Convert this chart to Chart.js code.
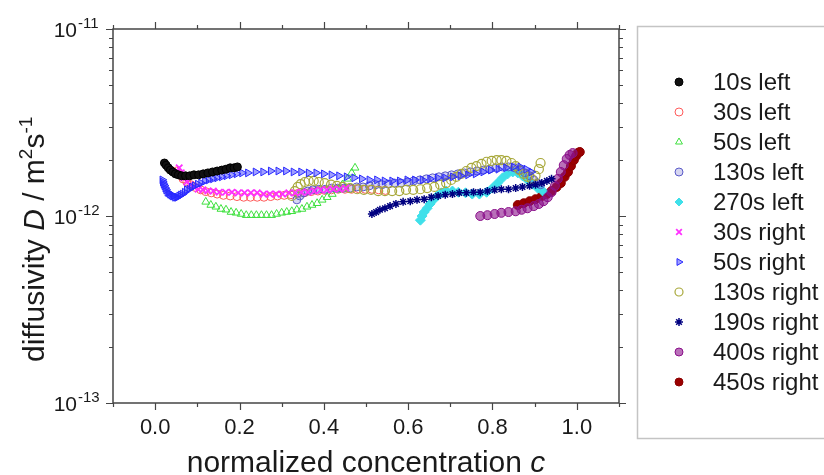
<!DOCTYPE html>
<html>
<head>
<meta charset="utf-8">
<script src="https://cdn.jsdelivr.net/npm/chart.js@4.4.1/dist/chart.umd.min.js"></script>
<style>
    html, body { margin: 0; padding: 0; background: #fff; }
    #wrap { width: 824px; height: 475px; }
</style>
</head>
<body>
<div id="wrap"><canvas id="chart" width="824" height="475"></canvas></div>
<script>
// 坐标轴范围与刻度
const xRange = [-0.1, 1.1];
const yRange = [1e-13, 1e-11];
const xTicks = [0, 0.2, 0.4, 0.6, 0.8, 1.0];
const xTickLabels = ['0.0', '0.2', '0.4', '0.6', '0.8', '1.0'];
const xMinorTicks = [-0.1, 0.1, 0.3, 0.5, 0.7, 0.9, 1.1];
const yTicks = [1e-13, 1e-12, 1e-11];
const yTickExponents = ['-13', '-12', '-11'];
const yMinorTicks = [2e-13, 3e-13, 4e-13, 5e-13, 6e-13, 7e-13, 8e-13, 9e-13,
                     2e-12, 3e-12, 4e-12, 5e-12, 6e-12, 7e-12, 8e-12, 9e-12];

const seriesNames = ['10s left', '30s left', '50s left', '130s left', '270s left',
                     '30s right', '50s right', '130s right', '190s right', '400s right', '450s right'];

// 数据: c = 归一化浓度, d = 扩散系数 (单位 1e-12 m²/s)
const c10sLeft = [0.022, 0.026, 0.031, 0.036, 0.042, 0.048, 0.055, 0.063, 0.072, 0.082, 0.092, 0.103, 0.114, 0.125, 0.136, 0.147, 0.158, 0.168, 0.178, 0.187, 0.195];
const d10sLeft = [1.92, 1.87, 1.81, 1.76, 1.72, 1.68, 1.66, 1.64, 1.64, 1.64, 1.66, 1.66, 1.68, 1.70, 1.72, 1.74, 1.76, 1.78, 1.81, 1.81, 1.83];

const c30sLeft = [0.050, 0.058, 0.066, 0.075, 0.085, 0.096, 0.108, 0.120, 0.133, 0.147, 0.162, 0.178, 0.194, 0.210, 0.226, 0.242, 0.258, 0.274, 0.290, 0.306, 0.322, 0.338, 0.354, 0.370, 0.386, 0.402, 0.418, 0.434, 0.450, 0.466, 0.482, 0.498, 0.514, 0.530, 0.546];
const d30sLeft = [1.74, 1.66, 1.58, 1.52, 1.47, 1.42, 1.38, 1.35, 1.33, 1.31, 1.29, 1.28, 1.27, 1.26, 1.26, 1.26, 1.26, 1.27, 1.28, 1.29, 1.30, 1.32, 1.33, 1.35, 1.36, 1.37, 1.38, 1.39, 1.39, 1.39, 1.40, 1.39, 1.39, 1.38, 1.37];

const c50sLeft = [0.120, 0.132, 0.144, 0.156, 0.168, 0.180, 0.192, 0.204, 0.216, 0.228, 0.240, 0.252, 0.264, 0.276, 0.288, 0.300, 0.312, 0.324, 0.336, 0.348, 0.360, 0.372, 0.384, 0.396, 0.408, 0.420, 0.432, 0.444, 0.456, 0.466, 0.474];
const d50sLeft = [1.19, 1.145, 1.12, 1.09, 1.08, 1.05, 1.04, 1.025, 1.01, 1.01, 1.01, 1.01, 1.01, 1.01, 1.025, 1.04, 1.05, 1.06, 1.08, 1.09, 1.12, 1.145, 1.17, 1.22, 1.26, 1.31, 1.38, 1.47, 1.58, 1.70, 1.81];

const c130sLeft = [0.336, 0.343, 0.352, 0.362, 0.374, 0.388, 0.403, 0.418, 0.433, 0.448, 0.463, 0.478, 0.493, 0.508, 0.523, 0.538, 0.553, 0.568, 0.583, 0.598, 0.613, 0.628, 0.643, 0.658, 0.673, 0.688, 0.703, 0.718, 0.733, 0.748, 0.763, 0.778, 0.793, 0.808, 0.823, 0.838, 0.852, 0.865, 0.877, 0.888, 0.898, 0.907, 0.914];
const d130sLeft = [1.22, 1.28, 1.33, 1.36, 1.38, 1.39, 1.39, 1.41, 1.41, 1.41, 1.41, 1.43, 1.43, 1.45, 1.47, 1.47, 1.48, 1.50, 1.50, 1.52, 1.54, 1.56, 1.58, 1.60, 1.62, 1.64, 1.66, 1.68, 1.70, 1.72, 1.74, 1.76, 1.78, 1.81, 1.83, 1.83, 1.81, 1.76, 1.70, 1.64, 1.56, 1.50, 1.47];

const c270sLeft = [0.629, 0.633, 0.638, 0.645, 0.652, 0.660, 0.669, 0.679, 0.690, 0.705, 0.719, 0.736, 0.752, 0.769, 0.786, 0.800, 0.812, 0.824, 0.836, 0.848, 0.860, 0.871, 0.883, 0.895, 0.907, 0.919];
const d270sLeft = [0.95, 1.00, 1.05, 1.10, 1.16, 1.22, 1.28, 1.33, 1.36, 1.36, 1.34, 1.33, 1.31, 1.31, 1.34, 1.41, 1.50, 1.60, 1.68, 1.72, 1.70, 1.64, 1.56, 1.48, 1.41, 1.36];

const c30sRight = [0.057, 0.062, 0.068, 0.075, 0.083, 0.092, 0.102, 0.113, 0.125, 0.138, 0.152, 0.167, 0.182, 0.197, 0.212, 0.227, 0.242, 0.257, 0.272, 0.287, 0.302, 0.317, 0.332, 0.347, 0.362, 0.377, 0.392, 0.407, 0.422, 0.437, 0.452];
const d30sRight = [1.81, 1.70, 1.60, 1.52, 1.47, 1.43, 1.39, 1.38, 1.36, 1.36, 1.34, 1.34, 1.34, 1.33, 1.33, 1.33, 1.33, 1.31, 1.31, 1.31, 1.31, 1.33, 1.33, 1.34, 1.34, 1.36, 1.38, 1.38, 1.39, 1.39, 1.41];

const c50sRight = [0.017, 0.018, 0.020, 0.022, 0.024, 0.026, 0.029, 0.032, 0.035, 0.038, 0.041, 0.044, 0.047, 0.050, 0.053, 0.057, 0.061, 0.065, 0.070, 0.075,
                   0.081, 0.087, 0.094, 0.101, 0.109, 0.118, 0.127, 0.137, 0.147, 0.158, 0.169, 0.181, 0.193, 0.206, 0.220,
                   0.238, 0.256, 0.274, 0.292, 0.310, 0.328, 0.346, 0.364, 0.382, 0.400, 0.418, 0.436, 0.454, 0.472, 0.490, 0.508, 0.526, 0.544, 0.562,
                   0.580, 0.598, 0.616, 0.634, 0.652, 0.670, 0.688, 0.706, 0.724, 0.742, 0.760, 0.778, 0.796, 0.814, 0.832, 0.850, 0.866, 0.880, 0.892];
const d50sRight = [1.56, 1.52, 1.48, 1.45, 1.41, 1.38, 1.34, 1.33, 1.31, 1.295, 1.28, 1.28, 1.26, 1.26, 1.26, 1.28, 1.295, 1.31, 1.34, 1.38,
                   1.39, 1.43, 1.45, 1.48, 1.50, 1.54, 1.56, 1.58, 1.60, 1.62, 1.64, 1.66, 1.68, 1.70, 1.70,
                   1.72, 1.72, 1.74, 1.74, 1.74, 1.72, 1.72, 1.70, 1.70, 1.68, 1.66, 1.64, 1.62, 1.60, 1.58, 1.56, 1.56, 1.54, 1.54,
                   1.54, 1.56, 1.56, 1.56, 1.58, 1.60, 1.60, 1.62, 1.64, 1.66, 1.68, 1.72, 1.76, 1.78, 1.81, 1.83, 1.83, 1.78, 1.72];

const c130sRight = [0.324, 0.331, 0.338, 0.345, 0.355, 0.364, 0.376, 0.388, 0.402, 0.417, 0.431, 0.445, 0.462, 0.479, 0.495, 0.512, 0.529, 0.545, 0.562, 0.579, 0.595, 0.612, 0.629, 0.645, 0.662, 0.676, 0.690, 0.702, 0.714, 0.726, 0.738, 0.750, 0.762, 0.774, 0.786, 0.798, 0.810, 0.821, 0.833, 0.845, 0.855, 0.864, 0.874, 0.883, 0.893, 0.902, 0.910, 0.914];
const d130sRight = [1.28, 1.36, 1.43, 1.48, 1.52, 1.54, 1.54, 1.52, 1.50, 1.47, 1.45, 1.43, 1.41, 1.39, 1.38, 1.38, 1.36, 1.36, 1.36, 1.36, 1.38, 1.38, 1.39, 1.41, 1.43, 1.47, 1.50, 1.56, 1.62, 1.68, 1.74, 1.81, 1.85, 1.90, 1.95, 1.97, 1.99, 1.99, 1.97, 1.92, 1.85, 1.76, 1.68, 1.62, 1.58, 1.64, 1.78, 1.92];

const c190sRight = [0.514, 0.524, 0.533, 0.545, 0.557, 0.571, 0.588, 0.605, 0.621, 0.638, 0.655, 0.671, 0.688, 0.705, 0.721, 0.738, 0.755, 0.771, 0.788, 0.805, 0.821, 0.838, 0.855, 0.871, 0.888, 0.902, 0.917, 0.929, 0.940];
const d190sRight = [1.025, 1.05, 1.08, 1.10, 1.13, 1.16, 1.19, 1.20, 1.22, 1.23, 1.26, 1.28, 1.30, 1.31, 1.33, 1.33, 1.34, 1.34, 1.36, 1.38, 1.39, 1.39, 1.41, 1.43, 1.45, 1.47, 1.50, 1.54, 1.58];

const c400sRight = [0.771, 0.788, 0.805, 0.821, 0.838, 0.855, 0.869, 0.883, 0.898, 0.910, 0.921, 0.931, 0.940, 0.948, 0.955, 0.962, 0.969, 0.976, 0.983, 0.990];
const d400sRight = [1.00, 1.01, 1.025, 1.04, 1.05, 1.06, 1.08, 1.10, 1.13, 1.16, 1.20, 1.26, 1.34, 1.45, 1.58, 1.72, 1.87, 2.02, 2.12, 2.17];

const c450sRight = [0.860, 0.874, 0.888, 0.902, 0.917, 0.929, 0.940, 0.952, 0.962, 0.971, 0.979, 0.986, 0.993, 0.998, 1.002, 1.007];
const d450sRight = [1.145, 1.17, 1.20, 1.23, 1.28, 1.31, 1.36, 1.43, 1.50, 1.62, 1.72, 1.85, 1.99, 2.09, 2.17, 2.20];

// 把两组数组合成散点
function toPoints(c, d) {
    return c.map((cc, i) => ({ x: cc, y: d[i] * 1e-12 }));
}

const seriesData = [
    toPoints(c10sLeft, d10sLeft),
    toPoints(c30sLeft, d30sLeft),
    toPoints(c50sLeft, d50sLeft),
    toPoints(c130sLeft, d130sLeft),
    toPoints(c270sLeft, d270sLeft),
    toPoints(c30sRight, d30sRight),
    toPoints(c50sRight, d50sRight),
    toPoints(c130sRight, d130sRight),
    toPoints(c190sRight, d190sRight),
    toPoints(c400sRight, d400sRight),
    toPoints(c450sRight, d450sRight)
];

// 各系列的标记样式 (order 越小越靠上)
const markerStyles = [
    { pointStyle: 'circle',   borderColor: '#000000', backgroundColor: '#111111', borderWidth: 1, order: 0 },
    { pointStyle: 'circle',   borderColor: '#ff5a5a', backgroundColor: 'rgba(255,255,255,0)', borderWidth: 1, order: 5 },
    { pointStyle: 'triangle', borderColor: '#3ee03e', backgroundColor: 'rgba(255,255,255,0)', borderWidth: 1, radius: 4.5, order: 4 },
    { pointStyle: 'circle',   borderColor: '#5a5ac8', backgroundColor: 'rgba(90,90,200,0.25)', borderWidth: 1, order: 3 },
    { pointStyle: 'rectRot',  borderColor: '#3fe0ea', backgroundColor: '#3fe0ea', borderWidth: 1, radius: 5, order: 3 },
    { pointStyle: 'crossRot', borderColor: '#ff30ff', backgroundColor: '#ff30ff', borderWidth: 1.8, radius: 4.5, order: 2 },
    { pointStyle: 'triangle', borderColor: '#2a2aff', backgroundColor: 'rgba(42,42,255,0.45)', borderWidth: 1, rotation: 90, radius: 4.5, order: 1 },
    { pointStyle: 'circle',   borderColor: '#a8a83a', backgroundColor: 'rgba(255,255,255,0)', borderWidth: 1.2, radius: 4.5, order: 2 },
    { pointStyle: 'star',     borderColor: '#000080', backgroundColor: '#000080', borderWidth: 1.5, order: 1 },
    { pointStyle: 'circle',   borderColor: '#8a108a', backgroundColor: 'rgba(138,16,138,0.6)', borderWidth: 1, radius: 4.5, order: 1 },
    { pointStyle: 'circle',   borderColor: '#8c0000', backgroundColor: '#9a0000', borderWidth: 1, radius: 4.5, order: 3 }
];

const FONT = '"Liberation Sans", Arial, sans-serif';
const TEXT_COLOR = '#1a1a1a';
const AXIS_COLOR = '#454545';

// 依次绘制带上标/斜体的文字片段
function drawParts(ctx, parts, x, y) {
    let cx = x;
    parts.forEach(p => {
        ctx.font = p.font;
        ctx.fillText(p.text, cx, y - (p.rise || 0));
        cx += ctx.measureText(p.text).width;
    });
}

// 坐标框、刻度、标签、图例
const framePlugin = {
    id: 'frame',
    afterDraw(chart) {
        const { ctx, chartArea: a, scales } = chart;
        const xs = scales.x, ys = scales.y;
        ctx.save();

        // 边框
        ctx.strokeStyle = AXIS_COLOR;
        ctx.lineWidth = 1.5;
        ctx.strokeRect(a.left, a.top, a.right - a.left, a.bottom - a.top);

        // 刻度线 (朝外, 四边)
        ctx.lineWidth = 1.2;
        ctx.beginPath();
        const tickX = (v, len) => {
            const px = Math.round(xs.getPixelForValue(v)) + 0.5;
            ctx.moveTo(px, a.bottom); ctx.lineTo(px, a.bottom + len);
            ctx.moveTo(px, a.top); ctx.lineTo(px, a.top - len);
        };
        const tickY = (v, len) => {
            const py = Math.round(ys.getPixelForValue(v)) + 0.5;
            ctx.moveTo(a.left, py); ctx.lineTo(a.left - len, py);
            ctx.moveTo(a.right, py); ctx.lineTo(a.right + len, py);
        };
        xTicks.forEach(v => tickX(v, 7));
        xMinorTicks.forEach(v => tickX(v, 4));
        yTicks.forEach(v => tickY(v, 7));
        yMinorTicks.forEach(v => tickY(v, 4));
        ctx.stroke();

        // X 轴刻度标签
        ctx.fillStyle = TEXT_COLOR;
        ctx.textBaseline = 'alphabetic';
        ctx.textAlign = 'center';
        ctx.font = '22px ' + FONT;
        xTicks.forEach((v, i) => {
            ctx.fillText(xTickLabels[i], xs.getPixelForValue(v), a.bottom + 31);
        });

        // Y 轴刻度标签 10^n
        yTicks.forEach((v, i) => {
            const py = ys.getPixelForValue(v);
            ctx.textAlign = 'right';
            ctx.font = '21px ' + FONT;
            ctx.fillText('10', 77, py + 8);
            ctx.textAlign = 'left';
            ctx.font = '15px ' + FONT;
            ctx.fillText(yTickExponents[i], 78, py - 1);
        });

        // X 轴标题
        ctx.textAlign = 'left';
        const xTitle = [
            { text: 'normalized concentration ', font: '30px ' + FONT },
            { text: 'c', font: 'italic 30px ' + FONT }
        ];
        let w = 0;
        xTitle.forEach(p => { ctx.font = p.font; w += ctx.measureText(p.text).width; });
        drawParts(ctx, xTitle, (a.left + a.right) / 2 - w / 2, 472);

        // Y 轴标题 (旋转)
        ctx.save();
        ctx.translate(44, 362);
        ctx.rotate(-Math.PI / 2);
        drawParts(ctx, [
            { text: 'diffusivity ', font: '30px ' + FONT },
            { text: 'D', font: 'italic 30px ' + FONT },
            { text: ' / m', font: '30px ' + FONT },
            { text: '2', font: '19px ' + FONT, rise: 12 },
            { text: 's', font: '30px ' + FONT },
            { text: '-1', font: '19px ' + FONT, rise: 12 }
        ], 0, 0);
        ctx.restore();

        // 图例
        ctx.strokeStyle = '#c4c4c4';
        ctx.lineWidth = 1.5;
        ctx.strokeRect(637.5, 26.5, 220, 412);
        chart.data.datasets.forEach((ds, i) => {
            const ly = 82 + i * 30;
            ctx.save();
            ctx.fillStyle = ds.pointBackgroundColor;
            ctx.strokeStyle = ds.pointBorderColor;
            ctx.lineWidth = ds.pointBorderWidth;
            Chart.helpers.drawPoint(ctx, {
                pointStyle: ds.pointStyle,
                radius: 4,
                rotation: ds.pointRotation || 0,
                borderWidth: ds.pointBorderWidth
            }, 679, ly);
            ctx.restore();
            ctx.fillStyle = TEXT_COLOR;
            ctx.font = '24px ' + FONT;
            ctx.textAlign = 'left';
            ctx.fillText(ds.label, 713, ly + 8);
        });

        ctx.restore();
    }
};

const datasets = seriesNames.map((name, i) => {
    const s = markerStyles[i];
    return {
        label: name,
        data: seriesData[i],
        order: s.order,
        showLine: false,
        pointStyle: s.pointStyle,
        pointRadius: s.radius || 4,
        pointBorderColor: s.borderColor,
        pointBackgroundColor: s.backgroundColor,
        pointBorderWidth: s.borderWidth,
        pointRotation: s.rotation || 0
    };
});

new Chart(document.getElementById('chart'), {
    type: 'scatter',
    data: { datasets: datasets },
    options: {
        responsive: false,
        animation: false,
        events: [],
        devicePixelRatio: 1,
        layout: { padding: { left: 113, right: 205, top: 29, bottom: 72 } },
        plugins: {
            legend: { display: false },
            tooltip: { enabled: false }
        },
        scales: {
            x: { type: 'linear', min: xRange[0], max: xRange[1], display: false },
            y: { type: 'logarithmic', min: yRange[0], max: yRange[1], display: false }
        }
    },
    plugins: [framePlugin]
});
</script>
</body>
</html>
